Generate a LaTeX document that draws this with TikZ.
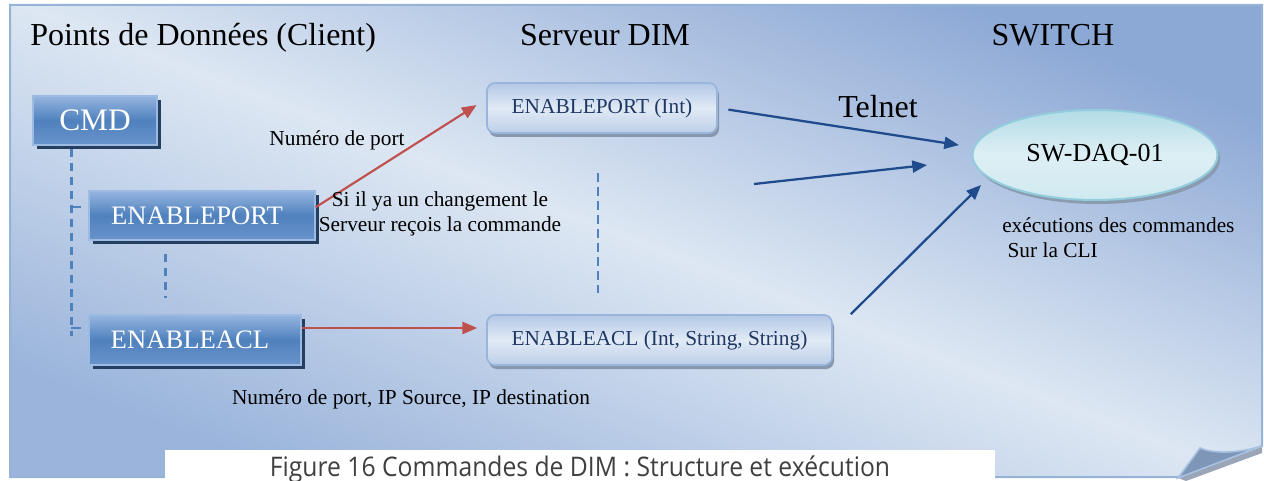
\documentclass[tikz,border=0pt]{standalone}
\usepackage{fontspec}
\usepackage{graphicx}
\setmainfont{Liberation Serif}
\newfontfamily\capfont{Open Sans}
\usetikzlibrary{shadows,arrows.meta,shapes.geometric}
\definecolor{bgTR}{HTML}{8CA8D5}
\definecolor{bgBL}{HTML}{9AB4DB}
\definecolor{bgMid}{HTML}{DDE7F3}
\definecolor{panelBorder}{HTML}{95B3D7}
\definecolor{cbTop}{HTML}{95B5E0}
\definecolor{cbMid}{HTML}{4F81BD}
\definecolor{cbBot}{HTML}{6A93CB}
\definecolor{cbBorder}{HTML}{9DBBE2}
\definecolor{cbShadow}{HTML}{243F60}
\definecolor{sbTop}{HTML}{B3C8E6}
\definecolor{sbMid}{HTML}{E1EAF5}
\definecolor{sbBot}{HTML}{BCCFE9}
\definecolor{sbBorder}{HTML}{9AB5DC}
\definecolor{sbShadow}{HTML}{8797AE}
\definecolor{sbText}{HTML}{1F3864}
\definecolor{elTop}{HTML}{B3DCE7}
\definecolor{elMid}{HTML}{DDEFF4}
\definecolor{elBot}{HTML}{D0E9F0}
\definecolor{elBorder}{HTML}{93CDDD}
\definecolor{elShadow}{HTML}{8A9BB0}
\definecolor{arRed}{HTML}{C0504D}
\definecolor{arBlue}{HTML}{1F4A8C}
\definecolor{dashBlue}{HTML}{4F81BD}
\definecolor{capGray}{HTML}{404040}
\definecolor{curlFill}{HTML}{7E96B8}
\definecolor{curlEdge}{HTML}{A9C1E1}
\definecolor{curlShadow}{HTML}{9AA6B8}
\begin{document}
\begin{tikzpicture}[x=0.75pt,y=-0.75pt,
  clbox/.style={rectangle, draw=cbBorder, line width=1pt,
    top color=cbTop, bottom color=cbBot, middle color=cbMid, text=white,
    inner sep=0pt,
    general shadow={fill=cbShadow, shadow xshift=3pt, shadow yshift=-3pt}},
  srvbox/.style={rectangle, rounded corners=6pt, draw=sbBorder, line width=1.3pt,
    top color=sbTop, bottom color=sbBot, middle color=sbMid, text=sbText,
    inner sep=0pt, font=\fontsize{16}{19}\selectfont,
    general shadow={fill=sbShadow, shadow xshift=1.5pt, shadow yshift=-3pt}},
  swell/.style={ellipse, draw=elBorder, line width=1.5pt,
    top color=elTop, bottom color=elBot, middle color=elMid, text=black,
    inner sep=0pt, font=\fontsize{19.5}{22}\selectfont,
    general shadow={fill=elShadow, shadow xshift=2pt, shadow yshift=-3pt}},
  ttl/.style={inner sep=0pt, font=\fontsize{24}{28}\selectfont},
  lbl/.style={inner sep=0pt, font=\fontsize{16}{18.75}\selectfont},
  redarrow/.style={draw=arRed, line width=1.6pt, -{Triangle[length=11pt,width=9pt]}},
  bluearrow/.style={draw=arBlue, line width=1.7pt, -{Triangle[length=11pt,width=9pt]}},
  dashline/.style={draw=dashBlue, line width=2pt, dash pattern=on 6.5pt off 4pt}
]
\useasboundingbox (0,0) rectangle (1264,481);
% panel
\shade[top color=bgTR, bottom color=bgBL, middle color=bgMid, shading angle=-21]
  (10,5) -- (1262,5) -- (1262,446) -- (1178,477) -- (10,477) -- cycle;
\draw[panelBorder, line width=1.5pt]
  (10,5) -- (1262,5) -- (1262,446) -- (1178,477) -- (10,477) -- cycle;
% page curl
\fill[curlShadow] (1178,478) -- (1262,447) -- (1262,453) -- (1186,481) -- cycle;
\filldraw[fill=curlFill, draw=curlEdge, line width=1.2pt]
  (1200,448) .. controls (1218,455) and (1242,452) .. (1262,446) -- (1178,478) -- cycle;
% caption
\fill[white] (165,450) rectangle (995,481);
\node[inner sep=0pt, anchor=base, text=capGray, font=\capfont] (cap) at (580,476)
  {\resizebox{465pt}{15.5pt}{Figure 16 Commandes de DIM : Structure et exécution}};
% titles
\node[ttl, anchor=base west] (tclient) at (30,46) {Points de Données (Client)};
\node[ttl, anchor=base] (tserv) at (605,46) {Serveur DIM};
\node[ttl, anchor=base] (tsw) at (1053,46) {SWITCH};
\node[ttl, anchor=base west] (telnet) at (838,118) {Telnet};
% client boxes
\node[clbox, minimum width=93pt, minimum height=36.75pt, font=\fontsize{23.5}{26}\selectfont]
  (cmd) at (95,120.5) {CMD};
\node[clbox, minimum width=169.5pt, minimum height=36.75pt, font=\fontsize{20}{24}\selectfont]
  (clport) at (202,215.5) {ENABLEPORT\hspace*{7.5pt}};
\node[clbox, minimum width=159pt, minimum height=37.5pt, font=\fontsize{20}{24}\selectfont]
  (clacl) at (195,340) {ENABLEACL\hspace*{7.5pt}};
% server boxes
\node[srvbox, minimum width=172.5pt, minimum height=37.5pt] (srvport) at (602,108) {ENABLEPORT (Int)};
\node[srvbox, minimum width=258.75pt, minimum height=37.5pt] (srvacl) at (659.5,340) {ENABLEACL (Int, String, String)};
% switch
\node[swell, minimum width=183.75pt, minimum height=67.5pt] (sw) at (1095,155) {SW-DAQ-01};
% dashed tree lines
\coordinate (trunk) at ([xshift=29.25pt,yshift=-2.25pt]cmd.south west);
\coordinate (tick1) at ([yshift=6.4pt]clport.west);
\coordinate (tick2) at ([yshift=9pt]clacl.west);
\draw[dashline] (trunk) -- ++(0,187);
\draw[draw=dashBlue, line width=2pt] (trunk |- tick1) -- ++(10,0);
\draw[draw=dashBlue, line width=2pt] (trunk |- tick2) -- ++(10,0);
\draw[dashline] ([xshift=57.75pt,yshift=-9.75pt]clport.south west) -- ([xshift=57.75pt,yshift=12pt]clacl.north west);
\coordinate (mid3) at ([xshift=-3pt]srvport.south);
\draw[dashline] ([yshift=-29.25pt]mid3) -- ++(0,120);
% red arrows
\draw[redarrow, shorten >=8.5pt] ([yshift=6.2pt]clport.east) -- ([yshift=6.75pt]srvport.west);
\draw[redarrow, shorten >=6.75pt] ([yshift=9pt]clacl.east) -- ([yshift=9pt]srvacl.west);
% blue arrows
\coordinate (b2s) at (754,184);
\coordinate (b2e) at (927,165);
\coordinate (b3e) at (981,185);
\draw[bluearrow, shorten <=8pt, shorten >=9.5pt] (srvport.east) -- ([yshift=6pt]sw.west);
\draw[bluearrow] (b2s) -- (b2e);
\draw[bluearrow] ([xshift=13.5pt]srvacl.north east) -- (b3e);
% labels
\node[lbl, anchor=base] (lport) at (337,146) {Numéro de port};
\node[lbl, align=center] (lchg) at (440,214.3) {Si il ya un changement le\\Serveur reçois la commande};
\node[lbl, anchor=base] (lacl) at (411,404) {Numéro de port, IP Source, IP destination};
\node[lbl, align=left, anchor=west] (lexec) at (1002,237.4) {exécutions des commandes\\\hspace*{4pt}Sur la CLI};
\end{tikzpicture}
\end{document}
